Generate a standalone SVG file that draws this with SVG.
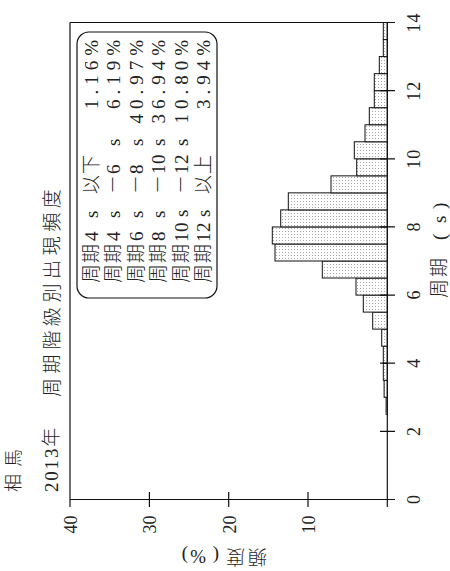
<svg xmlns="http://www.w3.org/2000/svg" width="450" height="571" viewBox="0 0 450 571">
<defs>
<pattern id="dots" width="3" height="3" patternUnits="userSpaceOnUse">
<rect width="3" height="3" fill="#fff"/>
<rect width="1" height="1" fill="#a8a8a8"/>
</pattern>
</defs>
<style>
.t{font-family:"Liberation Serif","Noto Sans CJK JP",serif;fill:#222;font-size:19px;font-weight:300}
.n{font-size:18px}
.ax{stroke:#111;stroke-width:1.2;fill:none}
.bar{fill:url(#dots);stroke:#111;stroke-width:1}
.mid{text-anchor:middle}
.end{text-anchor:end}
</style>
<rect width="450" height="571" fill="#fff"/>
<g transform="translate(0,571) rotate(-90)">
<g id="bars">
<rect class="bar" x="156.7" y="386.1" width="17.03" height="1.2"/>
<rect class="bar" x="173.7" y="384.1" width="17.03" height="3.2"/>
<rect class="bar" x="190.7" y="383.3" width="17.03" height="4"/>
<rect class="bar" x="207.8" y="383.3" width="17.03" height="4"/>
<rect class="bar" x="224.8" y="381.7" width="17.03" height="5.6"/>
<rect class="bar" x="241.9" y="372.7" width="17.03" height="14.6"/>
<rect class="bar" x="258.9" y="363.3" width="17.03" height="24"/>
<rect class="bar" x="275.9" y="356" width="17.03" height="31.3"/>
<rect class="bar" x="293" y="322.3" width="17.03" height="65"/>
<rect class="bar" x="310" y="275" width="17.03" height="112.3"/>
<rect class="bar" x="327" y="272.3" width="17.03" height="115"/>
<rect class="bar" x="344.1" y="280.7" width="17.03" height="106.6"/>
<rect class="bar" x="361.1" y="288.3" width="17.03" height="99"/>
<rect class="bar" x="378.1" y="331" width="17.03" height="56.3"/>
<rect class="bar" x="395.2" y="356.7" width="17.03" height="30.6"/>
<rect class="bar" x="412.2" y="354.3" width="17.03" height="33"/>
<rect class="bar" x="429.2" y="365" width="17.03" height="22.3"/>
<rect class="bar" x="446.3" y="369.3" width="17.03" height="18"/>
<rect class="bar" x="463.3" y="374.3" width="17.03" height="13"/>
<rect class="bar" x="480.3" y="374.3" width="17.03" height="13"/>
<rect class="bar" x="497.4" y="379.3" width="17.03" height="8"/>
<rect class="bar" x="514.4" y="383.3" width="17.03" height="4"/>
<rect class="bar" x="531.4" y="383.3" width="17.03" height="4"/>
</g>
<g id="axes">
<line class="ax" x1="64" y1="387.3" x2="548.5" y2="387.3"/>
<line class="ax" x1="64" y1="70" x2="548.5" y2="70"/>
<line class="ax" x1="71.5" y1="70" x2="71.5" y2="395"/>
<line class="ax" x1="548.5" y1="70" x2="548.5" y2="395"/>
<path class="ax" d="M139.6 380V395M207.8 380V395M275.9 380V395M344.1 380V395M412.2 380V395M480.3 380V395M64 308H79M64 228.7H79M64 149.4H79"/>
</g>
<g id="ticklabels" class="t n">
<text class="mid" x="71.5" y="420">0</text>
<text class="mid" x="139.6" y="420">2</text>
<text class="mid" x="207.8" y="420">4</text>
<text class="mid" x="275.9" y="420">6</text>
<text class="mid" x="344.1" y="420">8</text>
<text class="mid" x="412.2" y="420" letter-spacing="1">10</text>
<text class="mid" x="480.3" y="420" letter-spacing="1">12</text>
<text class="mid" x="548.5" y="420" letter-spacing="1">14</text>
<text class="end" x="55.5" y="77">40</text>
<text class="end" x="55.5" y="156.4">30</text>
<text class="end" x="55.5" y="235.7">20</text>
<text class="end" x="55.5" y="315">10</text>
</g>
<g id="titles" class="t">
<text x="79" y="20" font-size="18" letter-spacing="7">相馬</text>
<text x="79" y="58" letter-spacing="1.8">2013年</text>
<text x="174" y="59" letter-spacing="4.6">周期階級別出現頻度</text>
<text x="273 294 331 348 362" y="446">周期(s)</text>
<text transform="translate(21,267) rotate(-90)" x="0 22 48 61 79" y="0">頻度(%)</text>
</g>
<g id="legend" class="t">
<rect x="273" y="77" width="266" height="140" rx="12" fill="none" stroke="#111" stroke-width="1.2"/>
<text x="288 308 330 353 377 397" y="98">周期4s以下</text>
<text x="288 308 330 353 377 397 425" y="120.4">周期4s－6s</text>
<text x="288 308 330 353 377 397 425" y="142.8">周期6s－8s</text>
<text x="288 308 330 353 377 397 407 425" y="165.2">周期8s－10s</text>
<text x="288 308 329 339 354 377 397 407 425" y="187.6">周期10s－12s</text>
<text x="288 308 329 339 354 377 397" y="210">周期12s以上</text>
<g class="end" letter-spacing="5">
<text x="536" y="98">1.16%</text>
<text x="536" y="120.4">6.19%</text>
<text x="536" y="142.8">40.97%</text>
<text x="536" y="165.2">36.94%</text>
<text x="536" y="187.6">10.80%</text>
<text x="536" y="210">3.94%</text>
</g>
</g>
</g>
</svg>
